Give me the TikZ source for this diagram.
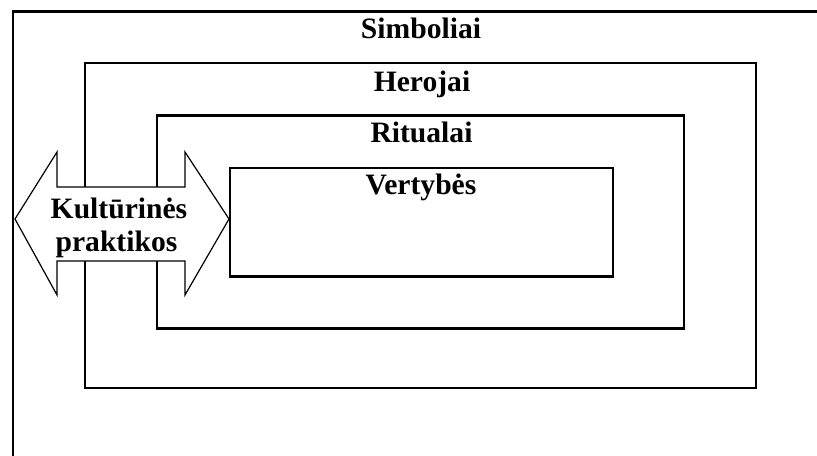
\documentclass[tikz,border=0pt]{standalone}
\usepackage{fontspec}
\setmainfont{Liberation Serif}
\begin{document}
\begin{tikzpicture}[x=0.75pt,y=-0.75pt,line width=2.1pt,
	lbl/.style={font=\fontsize{22.2}{25}\selectfont\bfseries,inner sep=0pt,anchor=base}]
					\clip (0,0) rectangle (817,456);
					\draw (13,11.5) rectangle (840,457.2);
					\draw (85,63) rectangle (756,388);
					\draw (157,115.5) rectangle (684,328.5);
					\draw (230,168) rectangle (613,276.5);
					\node[lbl] (simboliai) at (421,38.5) {Simboliai};
					\node[lbl] (herojai) at (422,91.5) {Herojai};
					\node[lbl] (ritualai) at (421.5,142.5) {Ritualai};
					\node[lbl] (vertybes) at (421,195) {Vertybės};
					\draw[line width=0.9pt,fill=white] (15,219) -- (57,152) -- (57,187) -- (185,187) -- (185,152) -- (229,219) -- (185,295) -- (185,261) -- (57,261) -- (57,295) -- cycle;
					\node[lbl] (kulturines) at (119,218.5) {Kultūrinės};
					\node[lbl] (praktikos) at (116.5,251.5) {praktikos};
				\end{tikzpicture}
\end{document}
